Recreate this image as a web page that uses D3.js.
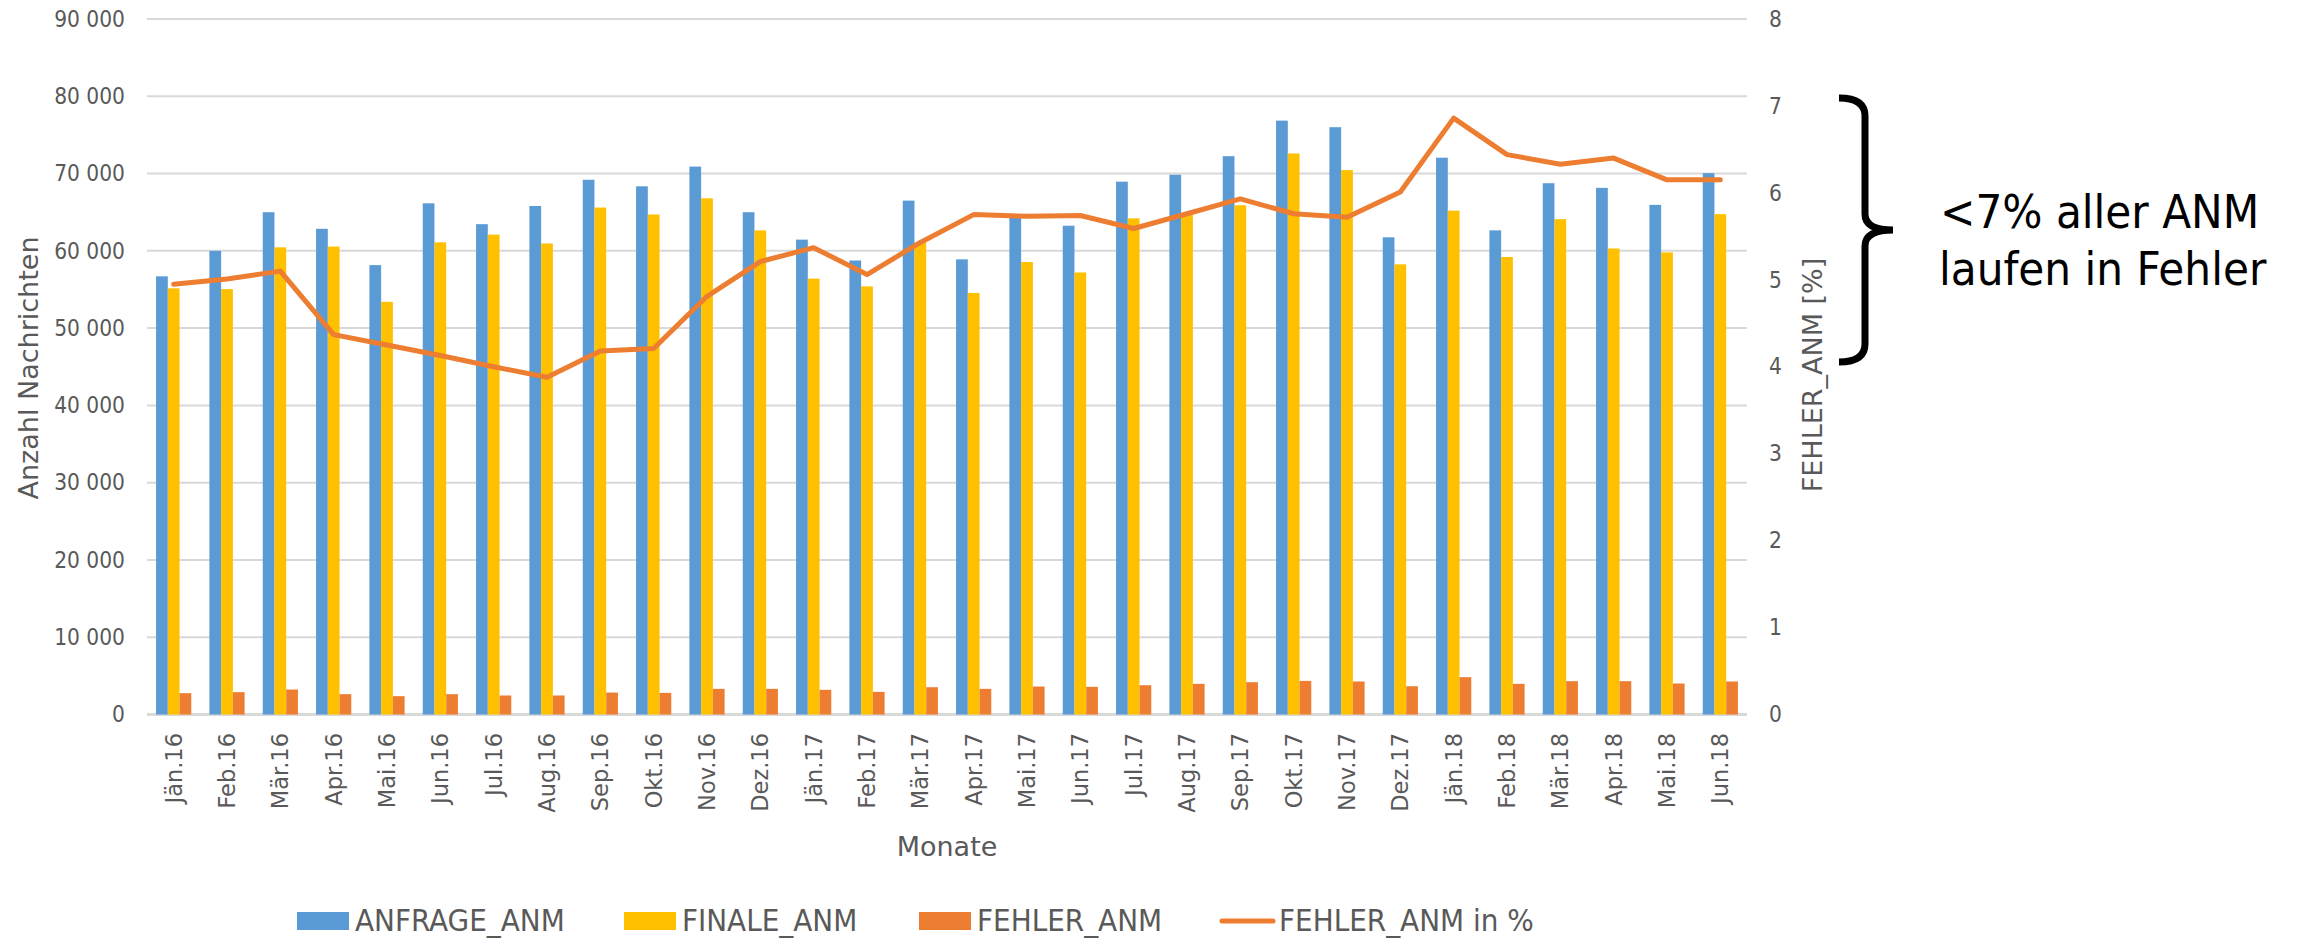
<html>
  <head>
    <meta charset="utf-8">
    <title>ANM Nachrichten</title>
    <script type="text/javascript" src="https://cdn.jsdelivr.net/npm/d3@7"></script>
    <style>
      body { margin: 0; background: #fff; }
      .cond { font-family: "DejaVu Sans Condensed", "DejaVu Sans", sans-serif; font-stretch: condensed; }
      .wide { font-family: "DejaVu Sans", Verdana, sans-serif; }
    </style>
    <script type="text/javascript">
      // data
      var months = ["Jän.16","Feb.16","Mär.16","Apr.16","Mai.16","Jun.16","Jul.16","Aug.16","Sep.16","Okt.16",
                    "Nov.16","Dez.16","Jän.17","Feb.17","Mär.17","Apr.17","Mai.17","Jun.17","Jul.17","Aug.17",
                    "Sep.17","Okt.17","Nov.17","Dez.17","Jän.18","Feb.18","Mär.18","Apr.18","Mai.18","Jun.18"];
      var anfrage = [56700, 60000, 65000, 62850, 58150, 66150, 63450, 65800, 69200, 68350,
                     70900, 65000, 61450, 58750, 66500, 58900, 64300, 63250, 68950, 69850,
                     72250, 76850, 76000, 61750, 72050, 62650, 68750, 68150, 65950, 70050];
      var finale = [55150, 55050, 60450, 60550, 53400, 61100, 62100, 60950, 65600, 64700,
                    66800, 62650, 56400, 55400, 61100, 54550, 58550, 57200, 64200, 64700,
                    65900, 72600, 70450, 58250, 65200, 59200, 64100, 60300, 59800, 64750];
      var fehler = [2760, 2890, 3230, 2630, 2370, 2630, 2460, 2460, 2840, 2800,
                    3320, 3320, 3190, 2930, 3530, 3320, 3620, 3580, 3790, 3970,
                    4180, 4350, 4270, 3660, 4830, 3970, 4310, 4310, 4010, 4270];
      var fehlerPct = [4.95, 5.01, 5.10, 4.37, 4.25, 4.13, 4.00, 3.88, 4.18, 4.21,
                       4.81, 5.21, 5.37, 5.06, 5.43, 5.75, 5.73, 5.74, 5.59, 5.76,
                       5.93, 5.76, 5.72, 6.01, 6.86, 6.44, 6.33, 6.40, 6.15, 6.15];
      var seriesNames = ["ANFRAGE_ANM", "FINALE_ANM", "FEHLER_ANM"];
      var lineName = "FEHLER_ANM in %";
      var colors = ["#5B9BD5", "#FFC000", "#ED7D31"];
      var leftTicks = [0, 10000, 20000, 30000, 40000, 50000, 60000, 70000, 80000, 90000];
      var rightTicks = [0, 1, 2, 3, 4, 5, 6, 7, 8];

      function ready(fn) {
        if (document.readyState != 'loading'){ fn() }
        else { document.addEventListener('DOMContentLoaded', fn) }
      }
      ready(function() {
        drawChart();
      });

      function drawChart() {
        var svg = d3.select("#chart"),
            left = 147, right = 1747, top = 19, bottom = 714.5,
            grey = "#595959";

        var fmt = d3.formatLocale({decimal: ",", thousands: " ", grouping: [3], currency: ["", "€"]}).format(",d");

        var x = d3.scaleBand().domain(months).range([left, right])
            .paddingInner(0.34).paddingOuter(0.17);
        var xs = d3.scaleBand().domain(d3.range(3)).range([0, x.bandwidth()]);
        var y = d3.scaleLinear().domain([0, 90000]).range([bottom, top]);
        var y2 = d3.scaleLinear().domain([0, 8]).range([bottom, top]);

        // gridlines
        svg.append("g").selectAll("line")
          .data(leftTicks)
          .enter().append("line")
            .attr("x1", left).attr("x2", right)
            .attr("y1", function(d) { return y(d); })
            .attr("y2", function(d) { return y(d); })
            .attr("stroke", "#d9d9d9")
            .attr("stroke-width", function(d) { return d === 0 ? 3 : 2; });

        // left axis
        var yAxis = d3.axisLeft(y).tickValues(leftTicks).tickFormat(fmt).tickSize(0).tickPadding(22);
        var gl = svg.append("g").attr("transform", "translate(" + left + ",0)").call(yAxis);
        gl.select(".domain").remove();
        gl.selectAll("text").attr("class", "cond").attr("font-size", 22.5).attr("fill", grey);

        // right axis
        var y2Axis = d3.axisRight(y2).tickValues(rightTicks).tickSize(0).tickPadding(22);
        var gr = svg.append("g").attr("transform", "translate(" + right + ",0)").call(y2Axis);
        gr.select(".domain").remove();
        gr.selectAll("text").attr("class", "cond").attr("font-size", 22.5).attr("fill", grey);

        // x axis labels
        var gx = svg.append("g");
        gx.selectAll("text")
          .data(months)
          .enter().append("text")
            .attr("class", "wide")
            .attr("font-size", 22.5)
            .attr("fill", grey)
            .attr("text-anchor", "end")
            .attr("dy", "0.35em")
            .attr("transform", function(d) {
              return "translate(" + (x(d) + x.bandwidth() / 2) + ",733) rotate(-90)";
            })
            .text(function(d) { return d; });

        // bars
        var series = [anfrage, finale, fehler];
        svg.append("g").selectAll("g")
          .data(series)
          .enter().append("g")
            .attr("fill", function(d, i) { return colors[i]; })
            .each(function(vals, si) {
              d3.select(this).selectAll("rect")
                .data(vals)
                .enter().append("rect")
                  .attr("x", function(d, i) { return x(months[i]) + xs(si); })
                  .attr("width", xs.bandwidth())
                  .attr("y", function(d) { return y(d); })
                  .attr("height", function(d) { return y(0) - y(d); });
            });

        // line
        var line = d3.line()
            .x(function(d, i) { return x(months[i]) + x.bandwidth() / 2; })
            .y(function(d) { return y2(d); });
        svg.append("path")
          .datum(fehlerPct)
          .attr("d", line)
          .attr("fill", "none")
          .attr("stroke", colors[2])
          .attr("stroke-width", 5)
          .attr("stroke-linejoin", "round")
          .attr("stroke-linecap", "round");

        // axis titles
        svg.append("text")
          .attr("class", "wide").attr("font-size", 27).attr("fill", grey)
          .attr("text-anchor", "middle")
          .attr("transform", "translate(38,368) rotate(-90)")
          .text("Anzahl Nachrichten");
        svg.append("text")
          .attr("class", "wide").attr("font-size", 27).attr("fill", grey)
          .attr("text-anchor", "middle")
          .attr("transform", "translate(1822,375) rotate(-90)")
          .text("FEHLER_ANM [%]");
        svg.append("text")
          .attr("class", "wide").attr("font-size", 27).attr("fill", grey)
          .attr("text-anchor", "middle")
          .attr("x", (left + right) / 2).attr("y", 856)
          .text("Monate");

        // legend
        var legend = [
          {name: seriesNames[0], x: 297, type: "rect", color: colors[0]},
          {name: seriesNames[1], x: 624, type: "rect", color: colors[1]},
          {name: seriesNames[2], x: 919, type: "rect", color: colors[2]},
          {name: lineName, x: 1219, type: "line", color: colors[2]}
        ];
        var lg = svg.append("g").selectAll("g")
          .data(legend)
          .enter().append("g")
            .attr("transform", function(d) { return "translate(" + d.x + ",921)"; });
        lg.filter(function(d) { return d.type == "rect"; })
          .append("rect")
            .attr("x", 0).attr("y", -9).attr("width", 52).attr("height", 18)
            .attr("fill", function(d) { return d.color; });
        lg.filter(function(d) { return d.type == "line"; })
          .append("line")
            .attr("x1", 3).attr("x2", 54).attr("y1", 0).attr("y2", 0)
            .attr("stroke", function(d) { return d.color; })
            .attr("stroke-width", 5)
            .attr("stroke-linecap", "round");
        lg.append("text")
          .attr("class", "cond").attr("font-size", 31).attr("fill", grey)
          .attr("x", function(d) { return d.type == "line" ? 60 : 58; })
          .attr("y", 10)
          .text(function(d) { return d.name; });

        // brace + note
        svg.append("path")
          .attr("d", "M1839,98 Q1865,98 1865,116 L1865,214 Q1865,230 1893,230 Q1865,230 1865,246 L1865,344 Q1865,362 1839,362")
          .attr("fill", "none")
          .attr("stroke", "#000")
          .attr("stroke-width", 7);
        var note = svg.append("text")
          .attr("class", "cond").attr("font-size", 47).attr("fill", "#000");
        note.append("tspan").attr("x", 1940).attr("y", 228).text("<7% aller ANM");
        note.append("tspan").attr("x", 1939).attr("y", 285).text("laufen in Fehler");
      }
    </script>
  </head>
  <body>
    <svg width="2300" height="940" id="chart"></svg>
  </body>
</html>
